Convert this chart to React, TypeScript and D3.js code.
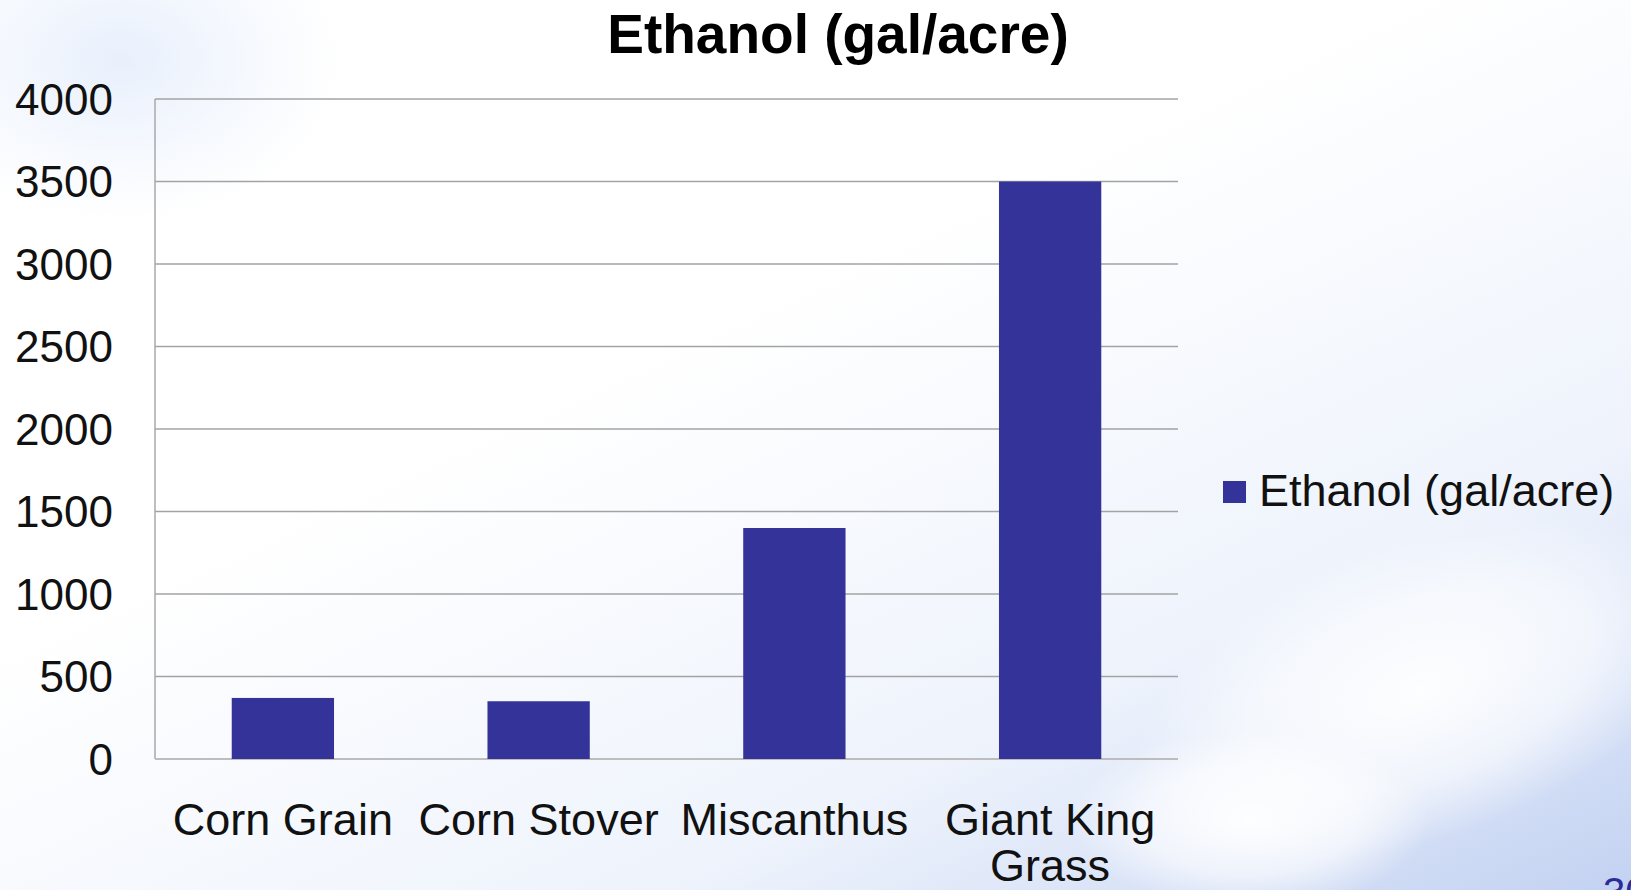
import { useEffect, useRef } from 'react';
import * as d3 from 'd3';

const categories = ['Corn Grain', 'Corn Stover', 'Miscanthus', 'Giant King Grass'];
const ethanolValues = [370, 350, 1400, 3500];
const yTicks = [0, 500, 1000, 1500, 2000, 2500, 3000, 3500, 4000];
const seriesName = 'Ethanol (gal/acre)';
const chartTitle = 'Ethanol (gal/acre)';
const slideNumber = '30';

const WIDTH = 1631;
const HEIGHT = 890;
const FONT = 'Liberation Sans, Arial, sans-serif';
const BAR_COLOR = '#333399';

export default function App() {
  const svgRef = useRef<SVGSVGElement>(null);

  useEffect(() => {
    if (!svgRef.current) return;
    const svg = d3.select(svgRef.current);
    svg.selectAll('*').remove();

    const margin = { left: 155, right: WIDTH - 1178, top: 99, bottom: HEIGHT - 759 };

    // slide background (pale sky with clouds at the lower right)
    const defs = svg.append('defs');
    const sky = defs.append('linearGradient')
      .attr('id', 'sky')
      .attr('x1', '0.45').attr('y1', '0.35')
      .attr('x2', '1').attr('y2', '1');
    sky.append('stop').attr('offset', '0').attr('stop-color', '#ffffff');
    sky.append('stop').attr('offset', '0.55').attr('stop-color', '#eef3fc');
    sky.append('stop').attr('offset', '1').attr('stop-color', '#c3d2f2');

    const cloud = defs.append('radialGradient').attr('id', 'cloud');
    cloud.append('stop').attr('offset', '0').attr('stop-color', '#ffffff').attr('stop-opacity', 0.95);
    cloud.append('stop').attr('offset', '0.6').attr('stop-color', '#ffffff').attr('stop-opacity', 0.6);
    cloud.append('stop').attr('offset', '1').attr('stop-color', '#ffffff').attr('stop-opacity', 0);

    const tint = defs.append('radialGradient').attr('id', 'tint');
    tint.append('stop').attr('offset', '0').attr('stop-color', '#e6eefc').attr('stop-opacity', 0.9);
    tint.append('stop').attr('offset', '1').attr('stop-color', '#e6eefc').attr('stop-opacity', 0);

    svg.append('rect').attr('width', WIDTH).attr('height', HEIGHT).attr('fill', 'url(#sky)');
    svg.append('ellipse')
      .attr('cx', 120).attr('cy', 60).attr('rx', 220).attr('ry', 160)
      .attr('fill', 'url(#tint)');
    svg.append('ellipse')
      .attr('cx', 1420).attr('cy', 690).attr('rx', 300).attr('ry', 150)
      .attr('transform', 'rotate(-20 1420 690)')
      .attr('fill', 'url(#cloud)');
    svg.append('ellipse')
      .attr('cx', 1250).attr('cy', 820).attr('rx', 180).attr('ry', 90)
      .attr('fill', 'url(#cloud)');

    const x = d3.scaleBand<string>()
      .domain(categories)
      .range([margin.left, WIDTH - margin.right])
      .paddingInner(0.6)
      .paddingOuter(0.3);

    const y = d3.scaleLinear()
      .domain([0, 4000])
      .range([HEIGHT - margin.bottom, margin.top]);

    // gridlines
    svg.append('g')
      .selectAll('line')
      .data(yTicks.filter(t => t > 0))
      .join('line')
      .attr('x1', margin.left)
      .attr('x2', WIDTH - margin.right)
      .attr('y1', d => y(d))
      .attr('y2', d => y(d))
      .attr('stroke', '#a3a3a3')
      .attr('stroke-width', 1.5);

    // axis lines
    svg.append('line')
      .attr('x1', margin.left).attr('x2', margin.left)
      .attr('y1', y(4000)).attr('y2', y(0))
      .attr('stroke', '#a8a8a8')
      .attr('stroke-width', 1.5);
    svg.append('line')
      .attr('x1', margin.left).attr('x2', WIDTH - margin.right)
      .attr('y1', y(0)).attr('y2', y(0))
      .attr('stroke', '#bdbdbd')
      .attr('stroke-width', 2);

    // bars
    svg.append('g')
      .selectAll('rect')
      .data(categories)
      .join('rect')
      .attr('x', d => x(d) ?? 0)
      .attr('width', x.bandwidth())
      .attr('y', (d, i) => y(ethanolValues[i]))
      .attr('height', (d, i) => y(0) - y(ethanolValues[i]))
      .attr('fill', BAR_COLOR);

    // y tick labels
    svg.append('g')
      .selectAll('text')
      .data(yTicks)
      .join('text')
      .attr('x', 113)
      .attr('y', d => y(d))
      .attr('dy', '0.36em')
      .attr('text-anchor', 'end')
      .attr('font-family', FONT)
      .attr('font-size', 44)
      .attr('fill', '#111')
      .text(d => d);

    // category labels, wrapped to the band step
    const step = x.step();
    categories.forEach(cat => {
      const cx = (x(cat) ?? 0) + x.bandwidth() / 2;
      const t = svg.append('text')
        .attr('x', cx)
        .attr('y', 835)
        .attr('text-anchor', 'middle')
        .attr('font-family', FONT)
        .attr('font-size', 45)
        .attr('fill', '#111');
      const words = cat.split(' ');
      let line: string[] = [];
      let tspan = t.append('tspan').attr('x', cx).attr('dy', 0);
      words.forEach(w => {
        line.push(w);
        tspan.text(line.join(' '));
        const node = tspan.node() as SVGTSpanElement;
        if (line.length > 1 && node.getComputedTextLength() > step - 6) {
          line.pop();
          tspan.text(line.join(' '));
          line = [w];
          tspan = t.append('tspan').attr('x', cx).attr('dy', 46).text(w);
        }
      });
    });

    // title
    svg.append('text')
      .attr('x', 838)
      .attr('y', 53)
      .attr('text-anchor', 'middle')
      .attr('font-family', FONT)
      .attr('font-size', 55)
      .attr('font-weight', 'bold')
      .attr('fill', '#000')
      .text(chartTitle);

    // legend
    const legend = svg.append('g').attr('transform', 'translate(1223, 481)');
    legend.append('rect')
      .attr('width', 23)
      .attr('height', 22)
      .attr('fill', BAR_COLOR);
    legend.append('text')
      .attr('x', 36)
      .attr('y', 25)
      .attr('font-family', FONT)
      .attr('font-size', 45)
      .attr('fill', '#111')
      .text(seriesName);

    // slide number, mostly cut off at the bottom edge
    svg.append('text')
      .attr('x', 1603)
      .attr('y', 906)
      .attr('font-family', FONT)
      .attr('font-size', 40)
      .attr('fill', '#2b2b9a')
      .text(slideNumber);
  }, []);

  return (
    <svg
      ref={svgRef}
      width={WIDTH}
      height={HEIGHT}
      style={{ position: 'absolute', left: 0, top: 0, display: 'block' }}
    />
  );
}
